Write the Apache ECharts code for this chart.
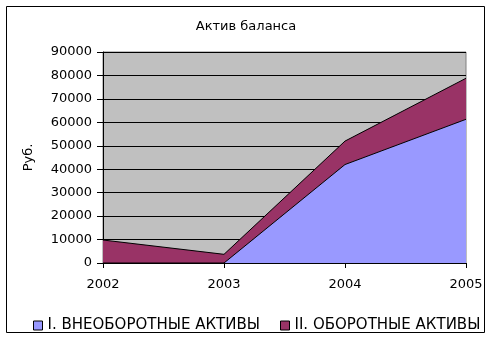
<!DOCTYPE html>
<html><head><meta charset="utf-8">
<script src="https://cdn.jsdelivr.net/npm/echarts@6/dist/echarts.min.js"></script>
<style>html,body{margin:0;padding:0;background:#fff}#c{width:492px;height:341px}</style>
</head><body><div id="c"></div>
<script>
var years = ['2002', '2003', '2004', '2005'];
var nonCurrent = [0, 0, 42000, 61300];
var current = [9800, 3700, 10000, 17500];
var seriesNames = ['I. ВНЕОБОРОТНЫЕ АКТИВЫ', 'II. ОБОРОТНЫЕ АКТИВЫ'];
var font = 'DejaVu Sans, Verdana, sans-serif';
var chart = echarts.init(document.getElementById('c'), null, {renderer: 'canvas'});
chart.setOption({
  animation: false,
  title: {text: 'Актив баланса', left: 'center', top: 15, textStyle: {fontFamily: font, fontSize: 13, fontWeight: 'normal', color: '#000'}},
  graphic: [{type: 'rect', shape: {x: 6.5, y: 6.5, width: 478, height: 326}, style: {fill: 'none', stroke: '#000', lineWidth: 1}, z: 100}],
  grid: {left: 103, right: 26, top: 52, bottom: 78, show: true, backgroundColor: '#C0C0C0', borderColor: '#808080', borderWidth: 1},
  legend: {
    bottom: 3, left: 28, itemWidth: 9, itemHeight: 9, itemGap: 20,
    icon: 'rect',
    textStyle: {fontFamily: font, fontSize: 15, color: '#000'},
    data: seriesNames.map(function(n){return {name: n, itemStyle: {borderColor: '#000', borderWidth: 1}};})
  },
  xAxis: {
    type: 'category', data: years, boundaryGap: false,
    axisLine: {lineStyle: {color: '#000'}},
    axisTick: {show: true, length: 5, lineStyle: {color: '#000'}},
    axisLabel: {fontFamily: font, fontSize: 13, color: '#000', margin: 15},
    splitLine: {show: false}
  },
  yAxis: {
    type: 'value', min: 0, max: 90000, interval: 10000,
    name: 'Руб.', nameLocation: 'middle', nameGap: 68, nameRotate: 90,
    nameTextStyle: {fontFamily: font, fontSize: 13, color: '#000'},
    axisLine: {show: true, lineStyle: {color: '#000'}},
    axisTick: {show: true, length: 6, lineStyle: {color: '#000'}},
    axisLabel: {fontFamily: font, fontSize: 13, color: '#000', margin: 11, formatter: function(v){return String(v);}},
    splitLine: {show: true, lineStyle: {color: '#000', width: 1}}
  },
  series: [
    {name: seriesNames[0], type: 'line', stack: 'a', data: nonCurrent, symbol: 'none',
     lineStyle: {color: '#000', width: 1}, itemStyle: {color: '#9999FF'}, areaStyle: {color: '#9999FF', opacity: 1}},
    {name: seriesNames[1], type: 'line', stack: 'a', data: current, symbol: 'none',
     lineStyle: {color: '#000', width: 1}, itemStyle: {color: '#993366'}, areaStyle: {color: '#993366', opacity: 1}}
  ]
});
</script></body></html>
